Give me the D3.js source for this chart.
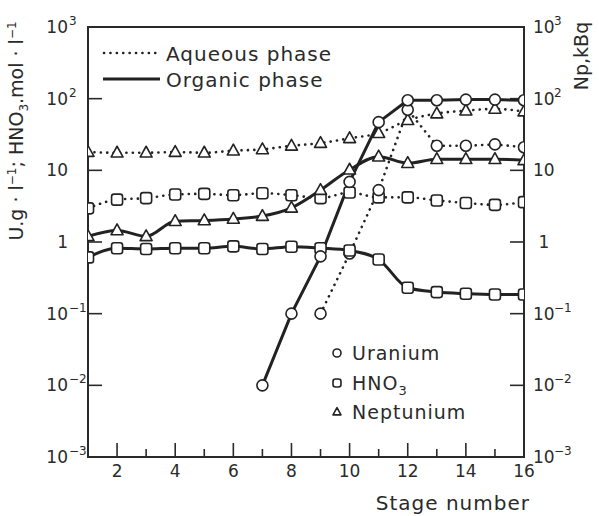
<!DOCTYPE html>
<html>
<head>
<meta charset="utf-8">
<style>
    body { margin: 0; background: white; }
    text { font-family: "DejaVu Sans", sans-serif; fill: #2a2a2a; }
    .axis_line { fill: none; stroke: #2a2a2a; stroke-width: 2; }
    .tick { stroke: #2a2a2a; stroke-width: 1.6; }
    .organic { fill: none; stroke: #222; stroke-width: 3; }
    .aqueous { fill: none; stroke: #222; stroke-width: 2.6; stroke-dasharray: 0.1 6.3; stroke-linecap: round; }
    .marker { fill: white; stroke: #222; stroke-width: 1.6; }
</style>
</head>
<body>
<div id="chart"></div>
<script src="https://cdn.jsdelivr.net/npm/d3@7"></script>
<script>

//////////////////// data ////////////////////
const stages = [1, 2, 3, 4, 5, 6, 7, 8, 9, 10, 11, 12, 13, 14, 15, 16];

// uranium, g/l
const uOrgStages = [7, 8, 9, 10, 11, 12, 13, 14, 15, 16];
const uOrg = [0.01, 0.1, 0.63, 6.9, 47, 95, 95, 97, 97, 95];
const uAqStages = [9, 10, 11, 12, 13, 14, 15, 16];
const uAq = [0.1, 0.69, 5.3, 70, 22, 22, 23, 21];

// HNO3, mol/l
const hno3Aq = [2.95, 3.9, 4.1, 4.6, 4.7, 4.5, 4.8, 4.5, 4.1, 4.9, 4.2, 4.2, 3.8, 3.5, 3.3, 3.6];
const hno3Org = [0.61, 0.82, 0.8, 0.82, 0.82, 0.87, 0.8, 0.86, 0.82, 0.76, 0.57, 0.23, 0.2, 0.19, 0.185, 0.185];

// neptunium, kBq
const npAq = [18, 17.6, 17.6, 18, 17.6, 18.8, 19.6, 22, 24, 28, 33, 50, 62, 68, 72, 66];
const npOrg = [1.2, 1.45, 1.2, 1.95, 2.0, 2.1, 2.3, 3.0, 5.3, 10.2, 15.5, 12.6, 14.3, 14.3, 14.3, 13.8];

const xMajor = [2, 4, 6, 8, 10, 12, 14, 16];
const xMinor = [3, 5, 7, 9, 11, 13, 15];
const decades = [-3, -2, -1, 0, 1, 2, 3];

//////////////////// layout ////////////////////
const W = 599, H = 516;
const X0 = 88, X1 = 524, Y0 = 27, Y1 = 457;

const x = d3.scaleLinear().domain([1, 16]).range([X0, X1]);
const y = d3.scaleLog().domain([1e-3, 1e3]).range([Y1, Y0]);

const svg = d3.select('#chart').append('svg')
    .attr('width', W)
    .attr('height', H);

svg.append('clipPath').attr('id', 'plotclip')
    .append('rect')
    .attr('x', X0).attr('y', Y0)
    .attr('width', X1 - X0).attr('height', Y1 - Y0);

//////////////////// axes ////////////////////
svg.append('rect')
    .classed('axis_line', true)
    .attr('x', X0).attr('y', Y0)
    .attr('width', X1 - X0).attr('height', Y1 - Y0);

// x ticks, pointing inward
xMajor.forEach(v => {
    if (v < 16) svg.append('line').classed('tick', true)
        .attr('x1', x(v)).attr('x2', x(v)).attr('y1', Y1).attr('y2', Y1 - 14);
    svg.append('text')
        .attr('x', x(v)).attr('y', 477)
        .attr('text-anchor', 'middle')
        .attr('font-size', 17)
        .text(v);
});
xMinor.forEach(v => {
    svg.append('line').classed('tick', true)
        .attr('x1', x(v)).attr('x2', x(v)).attr('y1', Y1).attr('y2', Y1 - 8);
});

// y ticks both sides
decades.forEach(d => {
    let yy = y(Math.pow(10, d));
    if (d > -3 && d < 3) {
        svg.append('line').classed('tick', true)
            .attr('x1', X0).attr('x2', X0 + 14).attr('y1', yy).attr('y2', yy);
        svg.append('line').classed('tick', true)
            .attr('x1', X1).attr('x2', X1 - 14).attr('y1', yy).attr('y2', yy);
    }
    let base = d == 0 ? '1' : '10';
    let hasExp = (d != 0 && d != 1);
    // left
    svg.append('text')
        .attr('x', 68).attr('y', yy + 6)
        .attr('text-anchor', 'end')
        .attr('font-size', 17)
        .text(base);
    if (hasExp) svg.append('text')
        .attr('x', 69).attr('y', yy - 2)
        .attr('font-size', 12)
        .text(d < 0 ? '\u2212' + (-d) : d);
    // right
    svg.append('text')
        .attr('x', d == 0 ? 544 : 533).attr('y', yy + 6)
        .attr('text-anchor', d == 0 ? 'middle' : 'start')
        .attr('font-size', 17)
        .text(base);
    if (hasExp) svg.append('text')
        .attr('x', 554).attr('y', yy - 2)
        .attr('font-size', 12)
        .text(d < 0 ? '\u2212' + (-d) : d);
});

// axis titles
svg.append('text')
    .attr('x', 530).attr('y', 510)
    .attr('text-anchor', 'end')
    .attr('font-size', 20)
    .attr('letter-spacing', 1)
    .text('Stage number');

let leftTitle = svg.append('text')
    .attr('transform', 'translate(23, 131) rotate(-90)')
    .attr('text-anchor', 'middle')
    .attr('font-size', 19);
leftTitle.append('tspan').text('U.g \u00b7 l');
leftTitle.append('tspan').attr('dy', -7).attr('font-size', 12).text('\u22121');
leftTitle.append('tspan').attr('dy', 7).text('; HNO');
leftTitle.append('tspan').attr('dy', 5).attr('font-size', 12).text('3');
leftTitle.append('tspan').attr('dy', -5).text('.mol \u00b7 l');
leftTitle.append('tspan').attr('dy', -7).attr('font-size', 12).text('\u22121');

svg.append('text')
    .attr('transform', 'translate(588, 56) rotate(-90)')
    .attr('text-anchor', 'middle')
    .attr('font-size', 19)
    .text('Np,kBq');

//////////////////// series ////////////////////
const plot = svg.append('g').attr('clip-path', 'url(#plotclip)');

const series = [
    { xs: stages, ys: npAq, cls: 'aqueous', shape: 'tri', curve: d3.curveMonotoneX },
    { xs: stages, ys: hno3Aq, cls: 'aqueous', shape: 'sq', curve: d3.curveMonotoneX },
    { xs: uAqStages, ys: uAq, cls: 'aqueous', shape: 'circ', curve: d3.curveLinear },
    { xs: stages, ys: npOrg, cls: 'organic', shape: 'tri', curve: d3.curveMonotoneX },
    { xs: stages, ys: hno3Org, cls: 'organic', shape: 'sq', curve: d3.curveMonotoneX },
    { xs: uOrgStages, ys: uOrg, cls: 'organic', shape: 'circ', curve: d3.curveLinear },
];

series.forEach(s => {
    let pts = s.xs.map((v, i) => [v, s.ys[i]]);
    plot.append('path')
        .classed(s.cls, true)
        .attr('d', d3.line().x(p => x(p[0])).y(p => y(p[1])).curve(s.curve)(pts));
});

function drawMarker(g, shape, cx, cy, sz) {
    if (shape == 'circ') {
        g.append('circle').classed('marker', true)
            .attr('cx', cx).attr('cy', cy).attr('r', sz / 2);
    } else if (shape == 'sq') {
        g.append('rect').classed('marker', true)
            .attr('x', cx - sz / 2).attr('y', cy - sz / 2)
            .attr('width', sz).attr('height', sz)
            .attr('rx', 2.5);
    } else {
        let h = sz * 0.9;
        g.append('path').classed('marker', true)
            .attr('d', `M ${cx} ${cy - h * 0.6} L ${cx + sz / 2} ${cy + h * 0.4} L ${cx - sz / 2} ${cy + h * 0.4} Z`)
            .attr('stroke-linejoin', 'round');
    }
}

series.forEach(s => {
    s.xs.forEach((v, i) => drawMarker(plot, s.shape, x(v), y(s.ys[i]), s.shape == 'tri' ? 12 : 11));
});

//////////////////// legends ////////////////////
svg.append('path').classed('aqueous', true).attr('d', 'M 104 53 L 158 53');
svg.append('text').attr('x', 166).attr('y', 61).attr('font-size', 20).attr('letter-spacing', 1).text('Aqueous phase');
svg.append('path').classed('organic', true).attr('d', 'M 103 79 L 160 79');
svg.append('text').attr('x', 166).attr('y', 87).attr('font-size', 20).attr('letter-spacing', 1).text('Organic phase');

const legend2 = [
    { shape: 'circ', label: 'Uranium', y: 353 },
    { shape: 'sq', label: 'HNO', sub: '3', y: 383 },
    { shape: 'tri', label: 'Neptunium', y: 412 },
];
legend2.forEach(l => {
    drawMarker(svg, l.shape, 337, l.y, 8);
    let t = svg.append('text').attr('x', 352).attr('y', l.y + 7)
        .attr('font-size', 19).attr('letter-spacing', 1).text(l.label);
    if (l.sub) t.append('tspan').attr('dy', 5).attr('font-size', 13).text(l.sub);
});

</script>
</body>
</html>
